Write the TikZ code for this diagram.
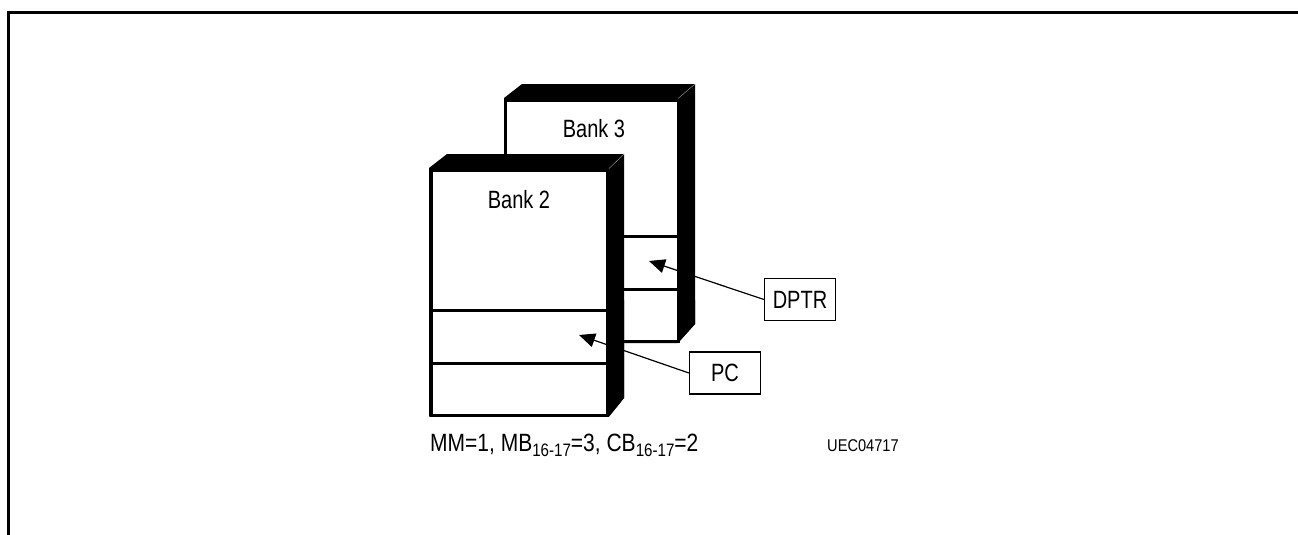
\documentclass[tikz,border=0pt]{standalone}
\usepackage{fontspec}
\setmainfont{Liberation Sans}
\usetikzlibrary{arrows.meta}
\tikzset{
  x=1pt,y=-1pt,
  frameline/.style={line width=2.2pt,line cap=butt},
  blackface/.style={fill=black,draw=none},
  frontface/.style={fill=white,draw=black,line width=3pt,line join=miter},
  divider/.style={line width=3pt},
  cornerline/.style={draw=gray!70,line width=0.4pt},
  lbl/.style={inner sep=0pt},
  tag/.style={draw=black,fill=white,line width=1.2pt,inner sep=0pt,minimum width=71pt,minimum height=42pt},
  ptr/.style={draw=black,line width=1.2pt,-{Triangle[length=16pt,width=14pt]}},
}
\newcommand{\biglabel}[1]{\scalebox{0.80}[1]{\fontsize{25}{27}\selectfont #1}}
\newcommand{\subtxt}[1]{\raisebox{-5.5pt}{\fontsize{18}{19}\selectfont #1}}
\begin{document}
\begin{tikzpicture}
\useasboundingbox (0,0) rectangle (1298,535);
\fill[white] (0,0) rectangle (1298,535);
\draw[frameline] (8.5,535) -- (8.5,12.5) -- (1298,12.5);

% Bank 3
\path[blackface] (504,98) -- (522,84) -- (695,84) -- (695,324) -- (678,343) -- (504,343) -- cycle;
\draw[frontface] (505.5,100) rectangle (678,341.5);
\draw[cornerline] (678,98.5) -- (695,84);
\draw[divider] (505.5,236) -- (678,236);
\draw[divider] (505.5,289) -- (678,289);
\path[blackface] (678,343) -- (695,324) -- (695,300) -- (678,300) -- cycle;
\node[lbl,anchor=center] (bank3) at (594,129) {\biglabel{Bank 3}};

% Bank 2
\path[blackface] (429,168) -- (447,154) -- (624,154) -- (624,398) -- (609,416.5) -- (429,416.5) -- cycle;
\draw[frontface] (431,170) rectangle (607,415);
\draw[cornerline] (609,168.5) -- (624,154);
\draw[divider] (431,310) -- (607,310);
\draw[divider] (431,363) -- (607,363);
\path[blackface] (607,416.5) -- (609,416.5) -- (624,398) -- (624,300) -- (607,300) -- cycle;
\node[lbl,anchor=center] (bank2) at (519,200) {\biglabel{Bank 2}};

% Labelled boxes
\node[tag] (dptr) at (800,299.5) {\biglabel{DPTR}};
\node[tag] (pc) at (725,373) {\biglabel{PC}};
\coordinate (dptrtip) at (649,261);
\coordinate (pctip) at (579,335);
\draw[ptr] (dptr.west) -- (dptrtip);
\draw[ptr] (pc.west) -- (pctip);

% Captions
\node[anchor=base west,inner sep=0pt] (cond) at (430,451)
  {\scalebox{0.84}[1]{\fontsize{25}{27}\selectfont MM=1, MB\subtxt{16-17}=3, CB\subtxt{16-17}=2}};
\node[anchor=base west,inner sep=0pt] (code) at (827,451)
  {\scalebox{0.86}[1]{\fontsize{17}{19}\selectfont UEC04717}};
\end{tikzpicture}
\end{document}
